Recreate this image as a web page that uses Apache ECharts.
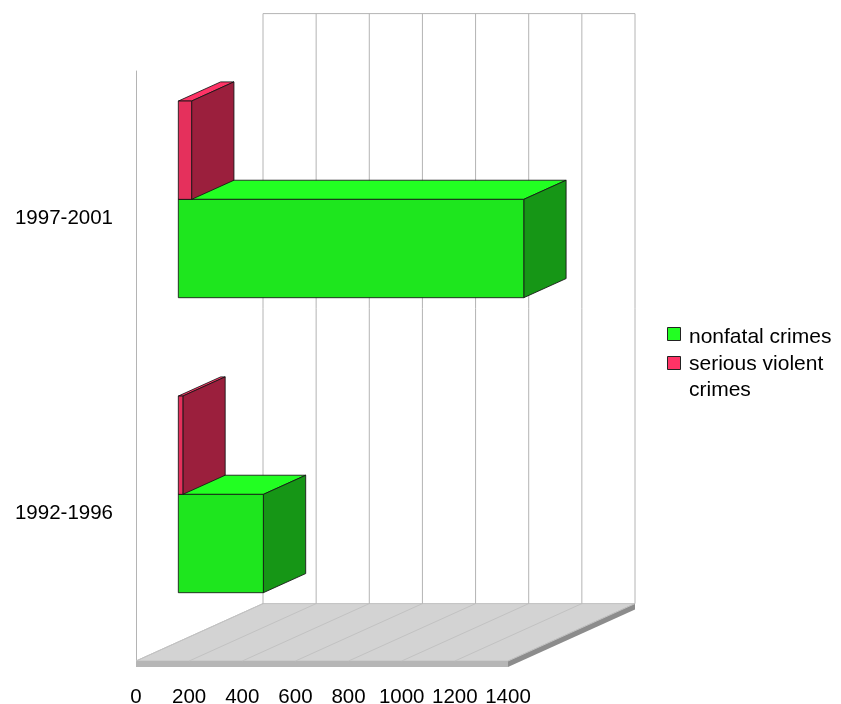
<!DOCTYPE html>
<html>
<head>
<meta charset="utf-8">
<script src="https://cdn.jsdelivr.net/npm/echarts@6/dist/echarts.min.js"></script>
<style>
  html, body { margin: 0; padding: 0; background: #ffffff; }
  #chart { width: 841px; height: 704px; }
</style>
</head>
<body>
<div id="chart"></div>
<script>
// Chart data
const categories = ['1992-1996', '1997-2001'];
const nonfatalCrimes = [320, 1300];
const seriousViolentCrimes = [17, 50];
const valueTicks = [0, 200, 400, 600, 800, 1000, 1200, 1400];
const seriesNames = ['nonfatal crimes', 'serious violent crimes'];

// Pseudo-3D projection: the depth axis runs up and to the right
const FONT = '"Liberation Sans", Arial, Helvetica, sans-serif';
const DEPTH_X = 127;
const DEPTH_Y = -57.4;
const SLAB = 6;
const WALL_LINE = '#b4b4b4';
const FLOOR_LINE = '#c2c2c2';
const EDGE = 'rgba(20,20,20,0.85)';

const palette = {
  nonfatal: { front: '#1ee61e', top: '#22ff22', side: '#169616', key: '#22ff22' },
  serious:  { front: '#e5305c', top: '#ff3366', side: '#9b1f3d', key: '#ff3366' }
};

function shift(p, f) {
  return [p[0] + DEPTH_X * f, p[1] + DEPTH_Y * f];
}

// Floor slab and top edge of the back wall
function renderFloor(params, api) {
  const cs = params.coordSys;
  const x0 = api.coord([valueTicks[0], 0])[0];
  const x1 = api.coord([valueTicks[valueTicks.length - 1], 0])[0];
  const yb = cs.y + cs.height;
  const fl = [x0, yb], fr = [x1, yb];
  const bl = shift(fl, 1), br = shift(fr, 1);
  const tl = shift([x0, cs.y], 1), tr = shift([x1, cs.y], 1);
  return {
    type: 'group',
    children: [
      { type: 'polygon', shape: { points: [fl, fr, br, bl] },
        style: { fill: '#d3d3d3', stroke: FLOOR_LINE, lineWidth: 1 } },
      { type: 'polygon', shape: { points: [fl, fr, [fr[0], fr[1] + SLAB], [fl[0], fl[1] + SLAB]] },
        style: { fill: '#b6b6b6' } },
      { type: 'polygon', shape: { points: [fr, br, [br[0], br[1] + SLAB], [fr[0], fr[1] + SLAB]] },
        style: { fill: '#8c8c8c' } },
      { type: 'line', shape: { x1: tl[0], y1: tl[1], x2: tr[0], y2: tr[1] },
        style: { stroke: WALL_LINE, lineWidth: 1 } }
    ]
  };
}

// One floor line and one back-wall line per value tick
function renderTickLines(params, api) {
  const cs = params.coordSys;
  const x = api.coord([api.value(0), 0])[0];
  const yb = cs.y + cs.height;
  const front = [x, yb];
  const back = shift(front, 1);
  const backTop = shift([x, cs.y], 1);
  return {
    type: 'group',
    children: [
      { type: 'line', shape: { x1: front[0], y1: front[1], x2: back[0], y2: back[1] },
        style: { stroke: FLOOR_LINE, lineWidth: 1 } },
      { type: 'line', shape: { x1: backTop[0], y1: backTop[1], x2: back[0], y2: back[1] },
        style: { stroke: WALL_LINE, lineWidth: 1 } }
    ]
  };
}

// Box-shaped horizontal bar occupying the middle third of the depth
function makeBarRenderer(colors, upper) {
  return function (params, api) {
    const v = api.value(0);
    const c = api.value(1);
    const base = api.coord([0, c]);
    const end = api.coord([v, c]);
    const band = api.size([0, 1])[1];
    const h = band / 3;
    const yTop = upper ? base[1] - h : base[1];
    const yBot = yTop + h;
    const f = 1 / 3, b = 2 / 3;
    const A = shift([base[0], yTop], f), B = shift([end[0], yTop], f);
    const C = shift([end[0], yBot], f), D = shift([base[0], yBot], f);
    const A2 = shift([base[0], yTop], b), B2 = shift([end[0], yTop], b);
    const C2 = shift([end[0], yBot], b);
    const edge = { stroke: EDGE, lineWidth: 1, lineJoin: 'round' };
    return {
      type: 'group',
      children: [
        { type: 'polygon', shape: { points: [A, B, B2, A2] },
          style: Object.assign({ fill: colors.top }, edge) },
        { type: 'polygon', shape: { points: [B, B2, C2, C] },
          style: Object.assign({ fill: colors.side }, edge) },
        { type: 'polygon', shape: { points: [A, B, C, D] },
          style: Object.assign({ fill: colors.front }, edge) }
      ]
    };
  };
}

const chart = echarts.init(document.getElementById('chart'), null, { renderer: 'canvas' });

const legendX = 667;
const legendText = { font: '21px ' + FONT, fill: '#000000', verticalAlign: 'middle', align: 'left' };

chart.setOption({
  animation: false,
  backgroundColor: '#ffffff',
  grid: {
    left: 136, top: 71, width: 372, height: 590,
    containLabel: false, outerBoundsMode: 'none'
  },
  xAxis: {
    type: 'value',
    min: valueTicks[0],
    max: valueTicks[valueTicks.length - 1],
    interval: 200,
    axisLine: { show: false },
    axisTick: { show: false },
    splitLine: { show: false },
    axisLabel: {
      margin: 26, fontSize: 20.5, fontFamily: FONT, color: '#000000',
      formatter: function (v) { return String(v); }
    }
  },
  yAxis: {
    type: 'category',
    data: categories,
    axisLine: { show: true, lineStyle: { color: WALL_LINE, width: 1 } },
    axisTick: { show: false },
    splitLine: { show: false },
    axisLabel: { margin: 23, fontSize: 20.5, fontFamily: FONT, color: '#000000', padding: [2, 0, 0, 0] }
  },
  series: [
    {
      type: 'custom', name: 'floor', clip: false, silent: true, z: 1,
      renderItem: renderFloor,
      data: [[valueTicks[0], 0]]
    },
    {
      type: 'custom', name: 'tick lines', clip: false, silent: true, z: 2,
      renderItem: renderTickLines,
      data: valueTicks.map(function (t) { return [t, 0]; })
    },
    {
      type: 'custom', name: seriesNames[0], clip: false, z: 3,
      renderItem: makeBarRenderer(palette.nonfatal, false),
      encode: { x: 0, y: 1 },
      data: nonfatalCrimes.map(function (v, i) { return [v, i]; })
    },
    {
      type: 'custom', name: seriesNames[1], clip: false, z: 4,
      renderItem: makeBarRenderer(palette.serious, true),
      encode: { x: 0, y: 1 },
      data: seriousViolentCrimes.map(function (v, i) { return [v, i]; })
    }
  ],
  graphic: [
    { type: 'rect', left: legendX, top: 327, shape: { width: 13, height: 13 },
      style: { fill: palette.nonfatal.key, stroke: '#222222', lineWidth: 1 } },
    { type: 'text', x: 689, y: 337, style: Object.assign({ text: 'nonfatal crimes' }, legendText) },
    { type: 'rect', left: legendX, top: 356, shape: { width: 13, height: 13 },
      style: { fill: palette.serious.key, stroke: '#222222', lineWidth: 1 } },
    { type: 'text', x: 689, y: 364, style: Object.assign({ text: 'serious violent' }, legendText) },
    { type: 'text', x: 689, y: 390, style: Object.assign({ text: 'crimes' }, legendText) }
  ]
});
</script>
</body>
</html>
